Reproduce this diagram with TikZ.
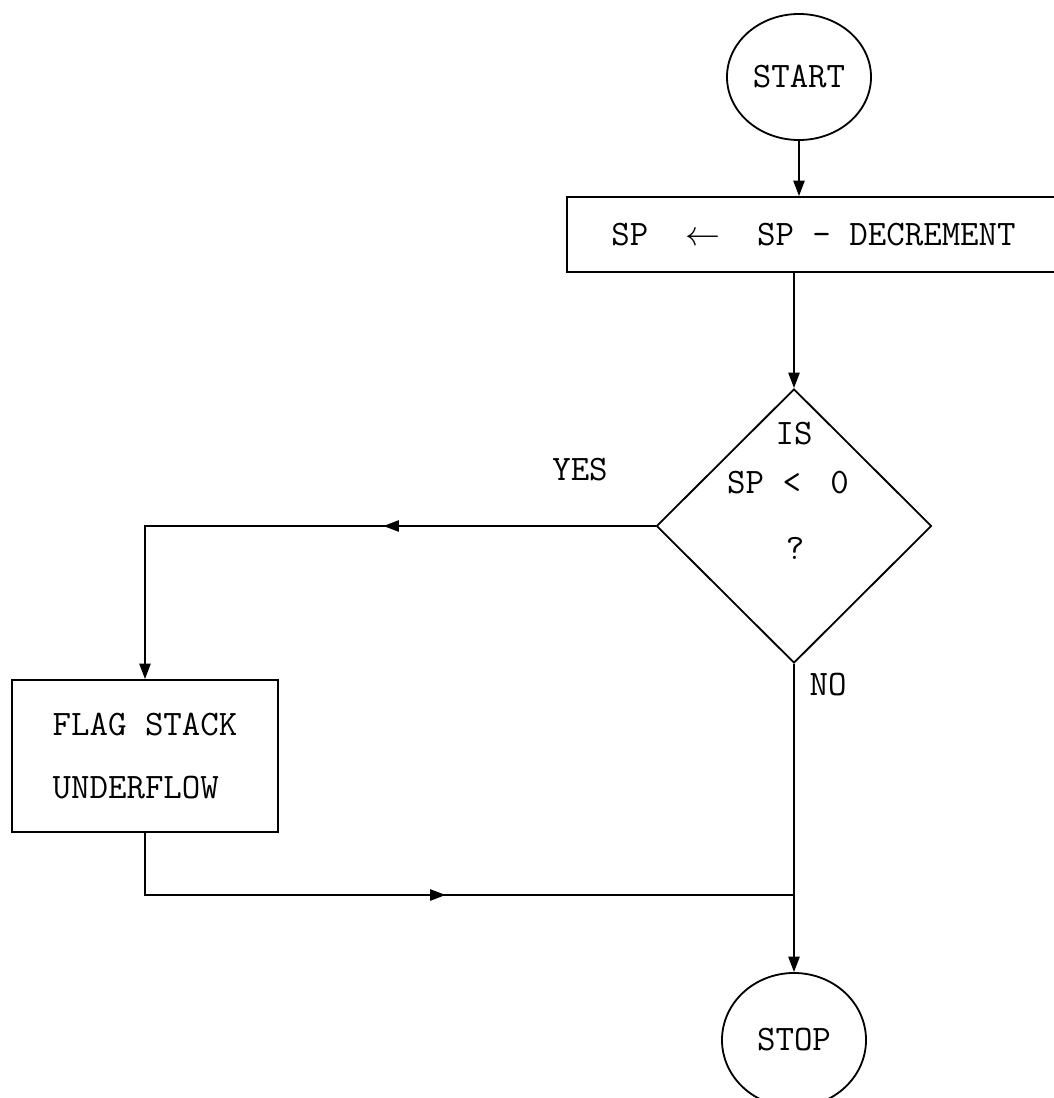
\documentclass[tikz,border=0pt]{standalone}
\usepackage{fontspec}
\usetikzlibrary{shapes.geometric,arrows.meta,decorations.markings}

\tikzset{
  every node/.style={font=\ttfamily\fontsize{25.5}{45}\selectfont},
  flowline/.style={line width=1.3pt},
  tip/.style={-{Triangle[length=11pt,width=8pt]}},
  midtip/.style={postaction={decorate},decoration={markings,mark=at position #1 with {\arrow{Triangle[length=11pt,width=8pt]}}}},
  termnode/.style={ellipse,draw,line width=1.3pt,minimum width=3.6cm,inner sep=0pt},
  procbox/.style={rectangle,draw,line width=1.3pt,inner sep=0pt},
  testnode/.style={diamond,draw,line width=1.3pt,minimum width=6.875cm,minimum height=6.85cm,inner sep=0pt}
}

\begin{document}
\begin{tikzpicture}[x=0.025cm,y=-0.025cm]
    \useasboundingbox (0,0) rectangle (1053,1098);

    % boxes
    \node[termnode,minimum height=3.15cm] (start) at (799,77) {START};
    \node[procbox,minimum width=12.325cm,minimum height=1.875cm] (dec) at (813.5,234.5) {SP\ \ $\leftarrow$\ \ SP - DECREMENT};
    \node[testnode] (test) at (794,526) {};
    \node (is) at (794,434) {IS};
    \node (cmp) at (788,483) {SP <\kern.3em{} 0};
    \node (qm) at (795,548) {?};
    \node (yes) at (580,470) {YES};
    \node (no) at (828,685) {NO};
    \node[procbox,align=left,minimum width=6.65cm,minimum height=3.8cm] (flag) at (145,756) {FLAG STACK\\UNDERFLOW};
    \node[termnode,minimum height=3.35cm] (stop) at (794,1040) {STOP};
    \coordinate (join) at (794,895);

    % connectors
    \draw[flowline,tip] (start.south) -- (start.south |- dec.north);
    \draw[flowline,tip] (test.north |- dec.south) -- (test.north);
    \draw[flowline,tip,midtip=0.41] (test.west) -| (flag.north);
    \draw[flowline,midtip=0.51] (flag.south) |- (join);
    \draw[flowline,tip] (test.south) -- (stop.north);

\end{tikzpicture}
\end{document}
